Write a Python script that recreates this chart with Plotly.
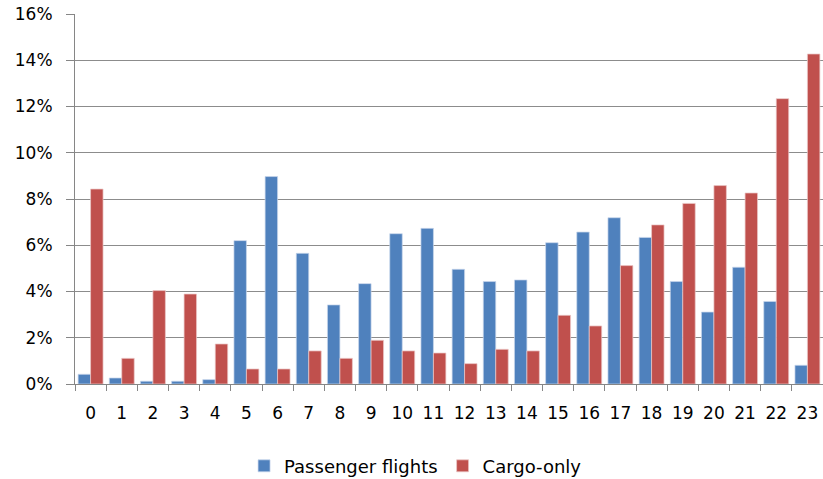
import plotly.graph_objects as go

hours = [str(h) for h in range(24)]
passenger = [0.42, 0.26, 0.12, 0.12, 0.19, 6.20, 8.97, 5.65, 3.42, 4.34, 6.50, 6.73,
             4.96, 4.43, 4.50, 6.11, 6.57, 7.19, 6.34, 4.43, 3.11, 5.05, 3.57, 0.81]
cargo = [8.43, 1.11, 4.04, 3.89, 1.73, 0.65, 0.65, 1.43, 1.11, 1.89, 1.43, 1.34,
         0.88, 1.50, 1.43, 2.97, 2.51, 5.12, 6.88, 7.81, 8.58, 8.26, 12.34, 14.27]
y_ticks = [0, 2, 4, 6, 8, 10, 12, 14, 16]
y_tick_labels = [f"{v}%" for v in y_ticks]

fig = go.Figure()
fig.add_trace(go.Bar(x=hours, y=passenger, name="Passenger flights",
                     marker=dict(color="#4F81BD", line=dict(color="rgba(200,215,235,0.9)", width=0.8))))
fig.add_trace(go.Bar(x=hours, y=cargo, name="Cargo-only",
                     marker=dict(color="#C0504D", line=dict(color="rgba(235,200,200,0.9)", width=0.8))))

font_family = "DejaVu Sans, sans-serif"
fig.update_layout(
    width=823, height=479,
    margin=dict(l=75, r=0, t=14, b=95, autoexpand=False),
    paper_bgcolor="white", plot_bgcolor="white",
    barmode="group", bargap=0.2, bargroupgap=0,
    font=dict(family=font_family, size=17, color="#000000"),
    showlegend=True,
    legend=dict(orientation="h", x=0.226, xanchor="left", y=-0.222, yanchor="middle",
                font=dict(size=18), itemwidth=30, traceorder="normal"),
)
fig.update_xaxes(type="category", tickson="boundaries", ticks="outside", ticklen=6,
                 tickcolor="#868686", showline=True, linecolor="#868686", linewidth=1,
                 showgrid=False, tickfont=dict(size=17), ticklabelstandoff=14,
                 automargin=False)
fig.update_yaxes(range=[0, 16], tickmode="array", tickvals=y_ticks, ticktext=y_tick_labels,
                 ticks="outside", ticklen=8, tickcolor="#868686",
                 showline=True, linecolor="#868686", linewidth=1,
                 showgrid=True, gridcolor="#8C8C8C", gridwidth=1,
                 zeroline=False, tickfont=dict(size=17), ticklabelstandoff=10,
                 automargin=False)

fig.write_html("out.html", config={"displayModeBar": False},
               post_script="document.body.style.margin='0';")
